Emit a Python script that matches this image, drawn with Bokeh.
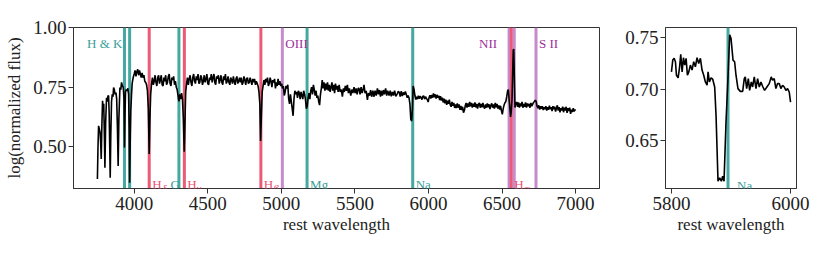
from bokeh.plotting import figure
from bokeh.layouts import row
from bokeh.models import Range1d, FixedTicker, NumeralTickFormatter, Span, Label
from bokeh.embed import file_html
from bokeh.resources import INLINE

# ---------------- data ----------------
wavelength = [
    3750, 3754, 3758, 3763, 3768, 3772, 3776, 3780, 3785, 3789, 3793, 3797, 3801, 3806, 3812, 3817,
    3822, 3826, 3830, 3834, 3837, 3841, 3846, 3851, 3856, 3860, 3865, 3870, 3876, 3881, 3886, 3891,
    3896, 3903, 3909, 3914, 3920, 3926, 3931, 3934, 3937, 3941, 3946, 3951, 3957, 3962, 3966, 3969,
    3973, 3977, 3982, 3986, 3990, 3995, 4000, 4006, 4012, 4018, 4024, 4030, 4036, 4042, 4048, 4054,
    4060, 4066, 4072, 4078, 4084, 4090, 4096, 4102, 4107, 4112, 4118, 4124, 4130, 4136, 4142, 4148,
    4154, 4160, 4166, 4172, 4178, 4184, 4190, 4196, 4202, 4208, 4214, 4220, 4226, 4232, 4238, 4244,
    4250, 4256, 4262, 4268, 4274, 4280, 4286, 4292, 4298, 4304, 4310, 4316, 4322, 4328, 4334, 4340,
    4345, 4350, 4356, 4362, 4368, 4374, 4380, 4386, 4392, 4398, 4404, 4410, 4416, 4422, 4428, 4434,
    4440, 4446, 4452, 4458, 4464, 4470, 4476, 4482, 4488, 4494, 4500, 4506, 4512, 4518, 4524, 4530,
    4536, 4542, 4548, 4554, 4560, 4566, 4572, 4578, 4584, 4590, 4596, 4602, 4608, 4614, 4620, 4626,
    4632, 4638, 4644, 4650, 4656, 4662, 4668, 4674, 4680, 4686, 4692, 4698, 4704, 4710, 4716, 4722,
    4728, 4734, 4740, 4746, 4752, 4758, 4764, 4770, 4776, 4782, 4788, 4794, 4800, 4806, 4812, 4818,
    4824, 4830, 4836, 4842, 4848, 4854, 4859, 4864, 4870, 4876, 4882, 4888, 4894, 4900, 4906, 4912,
    4918, 4924, 4930, 4936, 4942, 4948, 4954, 4960, 4966, 4972, 4978, 4984, 4990, 4996, 5002, 5008,
    5014, 5020, 5026, 5032, 5038, 5044, 5050, 5056, 5062, 5068, 5074, 5080, 5086, 5092, 5098, 5104,
    5110, 5116, 5122, 5128, 5134, 5140, 5146, 5152, 5158, 5164, 5170, 5176, 5182, 5188, 5194, 5200,
    5206, 5212, 5218, 5224, 5230, 5236, 5242, 5248, 5254, 5260, 5266, 5272, 5278, 5284, 5290, 5296,
    5302, 5308, 5314, 5320, 5326, 5332, 5338, 5344, 5350, 5356, 5362, 5368, 5374, 5380, 5386, 5393,
    5400, 5408, 5415, 5422, 5428, 5435, 5442, 5449, 5456, 5463, 5472, 5479, 5486, 5494, 5501, 5508,
    5515, 5522, 5528, 5535, 5542, 5549, 5556, 5562, 5569, 5577, 5585, 5592, 5600, 5607, 5614, 5622,
    5630, 5637, 5645, 5653, 5660, 5667, 5674, 5680, 5687, 5694, 5701, 5709, 5716, 5723, 5732, 5740,
    5747, 5755, 5762, 5770, 5778, 5788, 5795, 5802, 5808, 5815, 5822, 5829, 5836, 5843, 5850, 5856,
    5862, 5868, 5874, 5880, 5886, 5891, 5896, 5902, 5908, 5914, 5920, 5926, 5932, 5938, 5944, 5950,
    5956, 5962, 5968, 5974, 5980, 5986, 5992, 5998, 6004, 6010, 6016, 6022, 6028, 6034, 6040, 6046,
    6052, 6058, 6064, 6070, 6076, 6082, 6088, 6094, 6100, 6106, 6112, 6118, 6124, 6130, 6136, 6142,
    6148, 6154, 6160, 6166, 6172, 6178, 6184, 6190, 6196, 6202, 6208, 6214, 6220, 6226, 6232, 6238,
    6244, 6250, 6256, 6262, 6268, 6274, 6280, 6286, 6292, 6298, 6304, 6310, 6316, 6322, 6328, 6334,
    6340, 6346, 6352, 6358, 6364, 6370, 6376, 6382, 6388, 6394, 6400, 6406, 6412, 6418, 6424, 6430,
    6436, 6442, 6448, 6454, 6460, 6466, 6472, 6478, 6484, 6490, 6496, 6502, 6508, 6514, 6520, 6526,
    6532, 6538, 6543, 6548, 6553, 6558, 6563, 6568, 6572, 6576, 6580, 6584, 6588, 6594, 6600, 6606,
    6612, 6618, 6624, 6630, 6636, 6642, 6648, 6654, 6660, 6666, 6672, 6678, 6684, 6690, 6696, 6702,
    6708, 6714, 6720, 6726, 6732, 6738, 6744, 6750, 6756, 6762, 6768, 6774, 6780, 6786, 6792, 6798,
    6804, 6810, 6816, 6822, 6828, 6834, 6840, 6846, 6852, 6858, 6864, 6870, 6876, 6882, 6888, 6894,
    6900, 6906, 6912, 6918, 6924, 6930, 6936, 6942, 6948, 6954, 6960, 6966, 6972, 6978, 6984, 6990,
    6996, 7000,
]
flux = [
    0.365, 0.500, 0.588, 0.575, 0.560, 0.520, 0.449, 0.580, 0.693, 0.660, 0.680, 0.560, 0.413, 0.600, 0.706, 0.690,
    0.715, 0.713, 0.640, 0.490, 0.371, 0.550, 0.690, 0.720, 0.710, 0.748, 0.740, 0.720, 0.727, 0.700, 0.580, 0.420,
    0.620, 0.748, 0.740, 0.770, 0.755, 0.748, 0.700, 0.497, 0.620, 0.730, 0.740, 0.735, 0.745, 0.720, 0.580, 0.350,
    0.520, 0.650, 0.720, 0.765, 0.780, 0.795, 0.805, 0.820, 0.795, 0.815, 0.825, 0.800, 0.820, 0.805, 0.790, 0.810,
    0.790, 0.800, 0.775, 0.770, 0.760, 0.735, 0.660, 0.470, 0.620, 0.720, 0.765, 0.790, 0.760, 0.775, 0.800, 0.770,
    0.755, 0.790, 0.800, 0.765, 0.780, 0.800, 0.760, 0.755, 0.790, 0.775, 0.800, 0.760, 0.770, 0.795, 0.805, 0.765,
    0.755, 0.790, 0.780, 0.795, 0.760, 0.775, 0.750, 0.740, 0.715, 0.690, 0.720, 0.700, 0.725, 0.700, 0.620, 0.480,
    0.600, 0.730, 0.765, 0.790, 0.760, 0.785, 0.800, 0.770, 0.755, 0.790, 0.805, 0.775, 0.765, 0.795, 0.780, 0.805,
    0.765, 0.770, 0.800, 0.790, 0.760, 0.775, 0.800, 0.770, 0.785, 0.805, 0.765, 0.760, 0.790, 0.780, 0.805, 0.770,
    0.790, 0.805, 0.770, 0.760, 0.795, 0.785, 0.800, 0.765, 0.780, 0.800, 0.770, 0.760, 0.795, 0.780, 0.805, 0.765,
    0.775, 0.795, 0.770, 0.760, 0.790, 0.780, 0.765, 0.795, 0.775, 0.760, 0.785, 0.795, 0.765, 0.775, 0.790, 0.770,
    0.790, 0.760, 0.770, 0.795, 0.780, 0.760, 0.785, 0.790, 0.765, 0.770, 0.790, 0.775, 0.760, 0.785, 0.770, 0.785,
    0.760, 0.775, 0.765, 0.755, 0.730, 0.680, 0.525, 0.620, 0.730, 0.755, 0.780, 0.760, 0.785, 0.770, 0.790, 0.755,
    0.765, 0.790, 0.775, 0.750, 0.780, 0.770, 0.785, 0.745, 0.770, 0.755, 0.785, 0.760, 0.775, 0.755, 0.765, 0.745,
    0.755, 0.715, 0.730, 0.755, 0.745, 0.760, 0.700, 0.680, 0.720, 0.690, 0.660, 0.630, 0.700, 0.735, 0.720, 0.730,
    0.705, 0.735, 0.725, 0.700, 0.730, 0.715, 0.700, 0.735, 0.720, 0.700, 0.660, 0.670, 0.705, 0.725, 0.700, 0.735,
    0.750, 0.720, 0.760, 0.740, 0.715, 0.735, 0.705, 0.715, 0.690, 0.675, 0.720, 0.745, 0.780, 0.745, 0.770, 0.735,
    0.765, 0.740, 0.770, 0.735, 0.760, 0.730, 0.750, 0.770, 0.735, 0.760, 0.725, 0.765, 0.740, 0.755, 0.730, 0.760,
    0.730, 0.740, 0.710, 0.745, 0.730, 0.755, 0.735, 0.760, 0.725, 0.745, 0.715, 0.740, 0.725, 0.750, 0.725, 0.745,
    0.720, 0.745, 0.745, 0.720, 0.750, 0.725, 0.740, 0.760, 0.725, 0.735, 0.697, 0.725, 0.715, 0.738, 0.710, 0.735,
    0.710, 0.735, 0.715, 0.745, 0.720, 0.738, 0.710, 0.735, 0.715, 0.738, 0.720, 0.745, 0.715, 0.735, 0.715, 0.735,
    0.712, 0.730, 0.715, 0.735, 0.712, 0.722, 0.733, 0.728, 0.711, 0.733, 0.713, 0.728, 0.718, 0.732, 0.718, 0.706,
    0.715, 0.705, 0.680, 0.615, 0.608, 0.660, 0.755, 0.740, 0.715, 0.698, 0.710, 0.700, 0.714, 0.702, 0.712, 0.706,
    0.698, 0.712, 0.713, 0.700, 0.710, 0.703, 0.698, 0.688, 0.706, 0.716, 0.702, 0.718, 0.706, 0.724, 0.708, 0.720,
    0.702, 0.718, 0.706, 0.714, 0.696, 0.712, 0.694, 0.706, 0.686, 0.702, 0.682, 0.698, 0.676, 0.693, 0.680, 0.698,
    0.676, 0.668, 0.688, 0.672, 0.684, 0.663, 0.678, 0.662, 0.682, 0.664, 0.678, 0.655, 0.672, 0.654, 0.668, 0.643,
    0.652, 0.672, 0.684, 0.664, 0.682, 0.668, 0.688, 0.670, 0.684, 0.664, 0.681, 0.668, 0.686, 0.665, 0.680, 0.660,
    0.678, 0.684, 0.664, 0.680, 0.666, 0.684, 0.668, 0.660, 0.678, 0.664, 0.682, 0.666, 0.678, 0.658, 0.674, 0.682,
    0.664, 0.678, 0.660, 0.684, 0.666, 0.680, 0.660, 0.674, 0.656, 0.672, 0.652, 0.636, 0.660, 0.675, 0.685, 0.690,
    0.710, 0.735, 0.740, 0.700, 0.665, 0.625, 0.650, 0.700, 0.800, 0.905, 0.910, 0.780, 0.665, 0.680, 0.688, 0.668,
    0.686, 0.664, 0.682, 0.670, 0.688, 0.664, 0.680, 0.668, 0.686, 0.664, 0.682, 0.670, 0.680, 0.664, 0.684, 0.670,
    0.678, 0.686, 0.690, 0.696, 0.690, 0.670, 0.662, 0.674, 0.656, 0.670, 0.660, 0.670, 0.654, 0.666, 0.658, 0.670,
    0.652, 0.666, 0.655, 0.672, 0.658, 0.666, 0.650, 0.670, 0.658, 0.668, 0.648, 0.662, 0.674, 0.652, 0.666, 0.645,
    0.662, 0.652, 0.668, 0.645, 0.664, 0.652, 0.668, 0.642, 0.662, 0.650, 0.664, 0.638, 0.656, 0.646, 0.662, 0.648,
    0.656, 0.652,
]

inset_wavelength = [
    5800.0, 5802.2, 5804.5, 5806.7, 5808.4, 5811.2, 5813.4, 5815.6, 5817.9, 5820.1, 5822.3, 5824.6,
    5826.8, 5829.1, 5831.8, 5834.6, 5837.4, 5840.2, 5843.0, 5845.8, 5848.6, 5851.4, 5854.2, 5857.0,
    5859.8, 5861.5, 5863.7, 5866.5, 5869.3, 5872.6, 5874.9, 5878.2, 5881.0, 5883.8, 5886.0, 5888.3,
    5891.6, 5895.0, 5897.8, 5900.0, 5903.4, 5906.1, 5908.4, 5911.7, 5915.6, 5919.6, 5922.3, 5924.0,
    5926.3, 5929.1, 5931.3, 5934.1, 5936.3, 5939.1, 5941.9, 5944.7, 5947.5, 5950.3, 5953.6, 5956.4,
    5960.3, 5964.2, 5967.6, 5969.8, 5972.6, 5975.4, 5978.2, 5981.0, 5983.8, 5986.6, 5989.4, 5992.2,
    5995.0, 5997.8, 6000.0,
]
inset_flux = [
    0.7168, 0.7283, 0.7300, 0.7267, 0.7135, 0.7110, 0.7201, 0.7339, 0.7168, 0.7306, 0.7234, 0.7300,
    0.7135, 0.7168, 0.7234, 0.7185, 0.7267, 0.7218, 0.7306, 0.7250, 0.7300, 0.7185, 0.7135, 0.7069,
    0.7037, 0.7168, 0.7069, 0.7109, 0.7096, 0.7020, 0.6740, 0.6099, 0.6132, 0.6099, 0.6148, 0.6099,
    0.6675, 0.7119, 0.7530, 0.7497, 0.7283, 0.7267, 0.7135, 0.7004, 0.6977, 0.6977, 0.7102, 0.7119,
    0.7004, 0.7102, 0.6987, 0.7069, 0.7020, 0.7119, 0.7004, 0.7102, 0.7020, 0.7069, 0.7020, 0.6987,
    0.7020, 0.7053, 0.7119, 0.7086, 0.7102, 0.7004, 0.7053, 0.7053, 0.7004, 0.7037, 0.7020, 0.6987,
    0.7004, 0.6971, 0.6872,
]

# spectral features
line_wavelengths = [3934, 3969, 4102, 4304, 4341, 4861, 5007, 5175, 5893, 6548, 6583, 6563, 6731]
line_family = ["teal", "teal", "red", "teal", "red", "red", "purple", "teal", "teal",
               "purple", "purple", "red", "purple"]

# labels: text, subscript, anchor wavelength, top/bottom, align, family
label_text = ["H & K", "H", "G", "H", "H", "OIII", "Mg", "Na", "NII", "H", "S II"]
label_sub = ["", "δ", "", "γ", "β", "", "", "", "", "α", ""]
label_wave = [3934, 4102, 4304, 4341, 4861, 5007, 5175, 5893, 6548, 6563, 6731]
label_pos = ["top", "bottom", "bottom", "bottom", "bottom", "top", "bottom", "bottom", "top", "bottom", "top"]
label_align = ["right", "left", "right", "left", "left", "left", "left", "left", "right", "left", "left"]
label_family = ["teal", "red", "teal", "red", "red", "purple", "teal", "teal", "purple", "red", "purple"]

inset_line = 5895
xticks_main = [4000, 4500, 5000, 5500, 6000, 6500, 7000]
yticks_main = [0.50, 0.75, 1.00]
xticks_inset = [5800, 6000]
yticks_inset = [0.65, 0.70, 0.75]

# ---------------- style ----------------
LINE_COLORS = {"teal": "#45a9a1", "red": "#ec5a76", "purple": "#c68bcd"}
TEXT_COLORS = {"teal": "#3a9e98", "red": "#ec4f70", "purple": "#9b2f9b"}
FONT = "'Liberation Serif'"
SPINE = "#333333"


def style(p, xticks, yticks):
    p.xgrid.visible = False
    p.ygrid.visible = False
    p.outline_line_color = SPINE
    p.outline_line_width = 1
    p.outline_line_alpha = 1
    for ax in (p.xaxis[0], p.yaxis[0]):
        ax.axis_line_color = SPINE
        ax.major_tick_line_color = SPINE
        ax.major_tick_out = 5
        ax.major_tick_in = 0
        ax.minor_tick_line_color = None
        ax.major_label_text_font = FONT
        ax.major_label_text_font_size = "19px"
        ax.major_label_text_color = "#222222"
        ax.axis_label_text_font = FONT
        ax.axis_label_text_font_size = "17px"
        ax.axis_label_text_font_style = "normal"
        ax.axis_label_text_color = "#222222"
    p.xaxis[0].ticker = FixedTicker(ticks=xticks)
    p.yaxis[0].ticker = FixedTicker(ticks=yticks)
    p.yaxis[0].formatter = NumeralTickFormatter(format="0.00")
    p.xaxis[0].major_label_standoff = 3
    p.yaxis[0].major_label_standoff = 2
    p.xaxis[0].axis_label_standoff = 2
    p.yaxis[0].axis_label_standoff = 6


FRAME_H = 161
TOP, BOTTOM = 27, 60
HEIGHT = TOP + FRAME_H + BOTTOM

# ---------------- main panel ----------------
x0, x1 = min(wavelength), max(wavelength)
xpad = 0.05 * (x1 - x0)
y_lo, y_hi = 0.3255, 1.0

p = figure(width=620, height=HEIGHT, output_backend="svg", toolbar_location=None,
           x_range=Range1d(x0 - xpad, x1 + xpad), y_range=Range1d(y_lo, y_hi),
           min_border_left=73, min_border_right=21, min_border_top=TOP, min_border_bottom=BOTTOM,
           background_fill_color="white", border_fill_color="white")
style(p, xticks_main, yticks_main)
p.xaxis.axis_label = "rest wavelength"
p.yaxis.axis_label = "log(normalized flux)"

for fam_order in ("teal", "purple", "red"):
    for wl, fam in zip(line_wavelengths, line_family):
        if fam == fam_order:
            p.add_layout(Span(location=wl, dimension="height", line_color=LINE_COLORS[fam],
                              line_width=3, level="underlay"))

p.line(wavelength, flux, line_color="black", line_width=1.6)

ppu = FRAME_H / (y_hi - y_lo)
y_top = y_hi - 16 / ppu
y_bot = y_lo + 4 / ppu
offsets = {"H & K": -2, "G": 1, "NII": -12}
for txt, sub, wl, pos, al, fam in zip(label_text, label_sub, label_wave, label_pos, label_align, label_family):
    xo = offsets.get(txt, 3) if al == "left" else offsets.get(txt, -2)
    yy = y_top if pos == "top" else y_bot
    p.add_layout(Label(x=wl, y=yy, text=txt, x_offset=xo, text_align=al, text_baseline="alphabetic",
                       text_font=FONT, text_font_size="13px", text_color=TEXT_COLORS[fam]))
    if sub:
        p.add_layout(Label(x=wl, y=yy, text=sub, x_offset=xo + 9.5, y_offset=-3, text_align="left",
                           text_baseline="alphabetic", text_font=FONT, text_font_size="11px",
                           text_font_style="italic", text_color=TEXT_COLORS[fam]))

# ---------------- inset panel ----------------
ix0, ix1 = min(inset_wavelength), max(inset_wavelength)
ixpad = 0.05 * (ix1 - ix0)
iy0, iy1 = min(inset_flux), max(inset_flux)
iypad = 0.05 * (iy1 - iy0)
q = figure(width=191, height=HEIGHT, output_backend="svg", toolbar_location=None,
           x_range=Range1d(ix0 - ixpad, ix1 + ixpad), y_range=Range1d(iy0 - iypad, iy1 + iypad),
           min_border_left=45, min_border_right=15, min_border_top=TOP, min_border_bottom=BOTTOM,
           background_fill_color="white", border_fill_color="white")
style(q, xticks_inset, yticks_inset)
q.xaxis.axis_label = "rest wavelength"
q.add_layout(Span(location=inset_line, dimension="height", line_color=LINE_COLORS["teal"],
                  line_width=3, level="underlay"))
q.line(inset_wavelength, inset_flux, line_color="black", line_width=1.6)
qppu = FRAME_H / ((iy1 + iypad) - (iy0 - iypad))
q.add_layout(Label(x=inset_line, y=(iy0 - iypad) + 3 / qppu, text="Na", x_offset=9, text_align="left",
                   text_baseline="alphabetic", text_font=FONT, text_font_size="13px",
                   text_color=TEXT_COLORS["teal"]))

layout = row(p, q)
open("out.html", "w").write(file_html(layout, INLINE))
